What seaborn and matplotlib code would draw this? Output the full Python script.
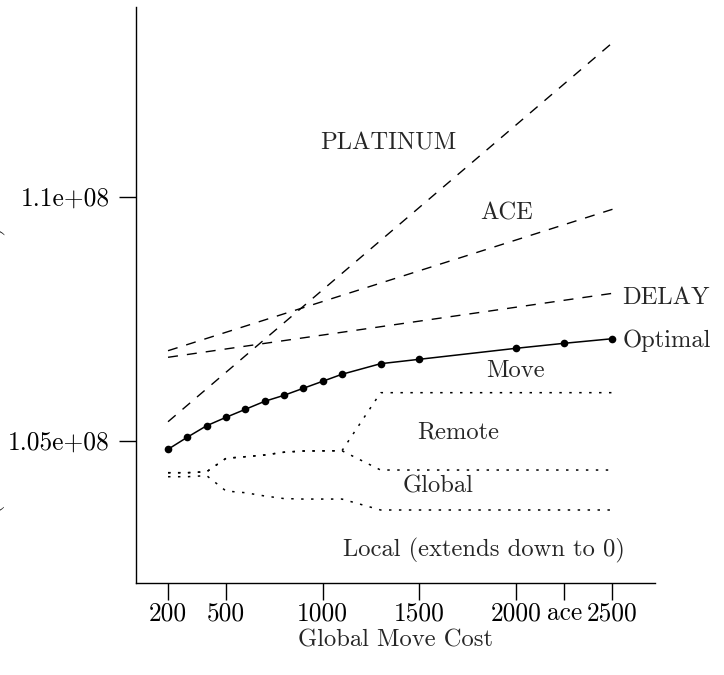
import pandas as pd
import seaborn as sns
import matplotlib.pyplot as plt

# move cost values on the x axis
move_cost = [200, 300, 400, 500, 600, 700, 800, 900, 1000, 1100, 1300, 1500, 2000, 2250, 2500]

# optimal schedule cost
optimal = [1.0482e8, 1.05068e8, 1.05303e8, 1.05475e8, 1.05639e8, 1.05803e8, 1.05926e8,
           1.0607e8, 1.06213e8, 1.06357e8, 1.06574e8, 1.06664e8, 1.06889e8, 1.06992e8, 1.07086e8]

# boundaries between the cost components of the optimal schedule
move_bound = [1.0434e8, 1.0434e8, 1.0436e8, 1.04635e8, 1.04668e8, 1.04703e8, 1.0476e8,
              1.04785e8, 1.04788e8, 1.0479e8, 1.0598e8, 1.0598e8, 1.0598e8, 1.0598e8, 1.0598e8]
remote_bound = [1.0434e8, 1.0434e8, 1.0436e8, 1.04635e8, 1.04668e8, 1.04703e8, 1.0476e8,
                1.04785e8, 1.04788e8, 1.0479e8, 1.04395e8, 1.04395e8, 1.04395e8, 1.04395e8, 1.04395e8]
global_bound = [1.04258e8, 1.04258e8, 1.0428e8, 1.03965e8, 1.0393e8, 1.03863e8, 1.0381e8,
                1.038e8, 1.038e8, 1.038e8, 1.03576e8, 1.03576e8, 1.03576e8, 1.03576e8, 1.03576e8]

# heuristic schedulers (straight lines)
heur_x = [200, 2500]
platinum = [1.05385e8, 1.13152e8]
ace = [1.0684e8, 1.09738e8]
delay = [1.06705e8, 1.08016e8]

xticks = [200, 500, 1000, 1500, 2000, 2250, 2500]
xtick_labels = ["200", "500", "1000", "1500", "2000", "ace", "2500"]
yticks = [1.05e8, 1.1e8]
ytick_labels = ["1.05e+08", "1.1e+08"]

sns.set_style("ticks")
plt.rcParams["font.family"] = ["cmr10", "DejaVu Serif"]
plt.rcParams["axes.formatter.use_mathtext"] = True

fig = plt.figure(figsize=(7.24, 6.75), dpi=100)
ax = fig.add_axes([0.1872, 0.1363, 0.7175, 0.8533])

dash = (0, (7.2, 6.5))
dot = (0, (1.6, 4.9))

sns.lineplot(x=heur_x, y=platinum, ax=ax, color="black", lw=1, linestyle=dash)
sns.lineplot(x=heur_x, y=ace, ax=ax, color="black", lw=1, linestyle=dash)
sns.lineplot(x=heur_x, y=delay, ax=ax, color="black", lw=1, linestyle=dash)

for bound in [move_bound, remote_bound, global_bound]:
    sns.lineplot(x=move_cost, y=bound, ax=ax, color="black", lw=1.1, linestyle=dot)

sns.lineplot(x=move_cost, y=optimal, ax=ax, color="black", lw=1.1,
             marker="o", markersize=5.5, markeredgecolor="black", markeredgewidth=0)

fs = 17.7
ax.text(1340, 1.1108e8, "PLATINUM", fontsize=fs, ha="center", va="center")
ax.text(1950, 1.0966e8, "ACE", fontsize=fs, ha="center", va="center")
ax.text(2550, 1.0793e8, "DELAY", fontsize=fs, ha="left", va="center")
ax.text(2550, 1.0704e8, "Optimal", fontsize=fs, ha="left", va="center")
ax.text(2000, 1.0643e8, "Move", fontsize=fs, ha="center", va="center")
ax.text(1700, 1.0516e8, "Remote", fontsize=fs, ha="center", va="center")
ax.text(1595, 1.0405e8, "Global", fontsize=fs, ha="center", va="center")
ax.text(1835, 1.0275e8, "Local (extends down to 0)", fontsize=fs, ha="center", va="center")

ax.set_xlim(31.8, 2720)
ax.set_ylim(1.0208e8, 1.13883e8)
ax.set_xticks(xticks)
ax.set_xticklabels(xtick_labels)
ax.set_yticks(yticks)
ax.set_yticklabels(ytick_labels)
ax.tick_params(axis="both", direction="out", length=12.5, width=1, colors="black",
               labelsize=18.3)
ax.tick_params(axis="x", pad=1)
ax.tick_params(axis="y", pad=6)
ax.set_xlabel("Global Move Cost", fontsize=fs, labelpad=3)
ax.set_ylabel("")

for side in ["top", "right"]:
    ax.spines[side].set_visible(False)
for side in ["left", "bottom"]:
    ax.spines[side].set_linewidth(1)
    ax.spines[side].set_color("black")

# y axis title sits mostly off the left edge of the canvas
fig.text(0.008, 0.36, "Total Cost (Local + Remote + Move)", rotation=90,
         ha="right", va="center", fontsize=fs)

fig.savefig("out.png", dpi=100)
